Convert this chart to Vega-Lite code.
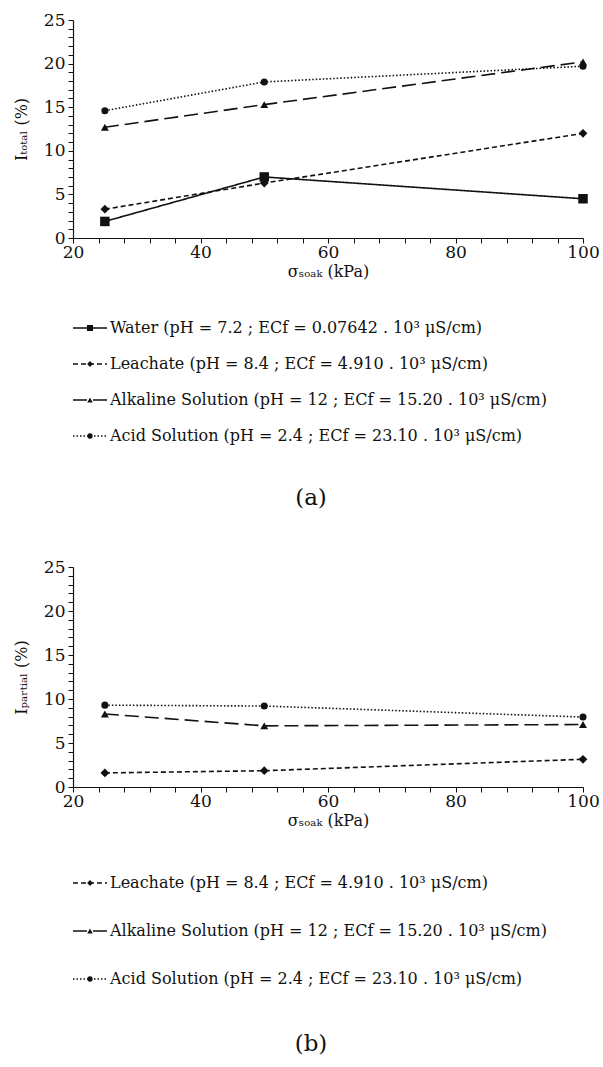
{
  "$schema": "https://vega.github.io/schema/vega-lite/v6.json",
  "padding": {"left": 13, "top": 11, "right": 2, "bottom": 2},
  "background": "white",
  "config": {
    "view": {"stroke": null},
    "font": "DejaVu Serif",
    "axis": {
      "labelFont": "DejaVu Serif", "titleFont": "DejaVu Serif",
      "labelColor": "#111", "titleColor": "#111", "domainColor": "#111", "tickColor": "#111",
      "labelFontSize": 17, "titleFontSize": 16, "titleFontWeight": "normal",
      "grid": false, "tickSize": 5, "domainWidth": 1.2, "tickWidth": 1
    },
    "title": {"font": "DejaVu Serif", "fontWeight": "normal", "color": "#111"}
  },
  "datasets": {
    "a": [
      {"sigma": 25, "I": 1.9, "key": "Water"},
      {"sigma": 50, "I": 7.0, "key": "Water"},
      {"sigma": 100, "I": 4.5, "key": "Water"},
      {"sigma": 25, "I": 3.3, "key": "Leachate"},
      {"sigma": 50, "I": 6.3, "key": "Leachate"},
      {"sigma": 100, "I": 12.0, "key": "Leachate"},
      {"sigma": 25, "I": 12.7, "key": "Alkaline"},
      {"sigma": 50, "I": 15.3, "key": "Alkaline"},
      {"sigma": 100, "I": 20.2, "key": "Alkaline"},
      {"sigma": 25, "I": 14.6, "key": "Acid"},
      {"sigma": 50, "I": 17.9, "key": "Acid"},
      {"sigma": 100, "I": 19.7, "key": "Acid"}
    ],
    "b": [
      {"sigma": 25, "I": 1.6, "key": "Leachate"},
      {"sigma": 50, "I": 1.85, "key": "Leachate"},
      {"sigma": 100, "I": 3.15, "key": "Leachate"},
      {"sigma": 25, "I": 8.3, "key": "Alkaline"},
      {"sigma": 50, "I": 6.95, "key": "Alkaline"},
      {"sigma": 100, "I": 7.1, "key": "Alkaline"},
      {"sigma": 25, "I": 9.3, "key": "Acid"},
      {"sigma": 50, "I": 9.2, "key": "Acid"},
      {"sigma": 100, "I": 7.95, "key": "Acid"}
    ],
    "legA": [
      {"key": "Water", "label": "Water (pH = 7.2 ; ECf = 0.07642 . 10³ μS/cm)"},
      {"key": "Leachate", "label": "Leachate (pH = 8.4 ; ECf = 4.910 . 10³ μS/cm)"},
      {"key": "Alkaline", "label": "Alkaline Solution (pH = 12 ; ECf = 15.20 . 10³ μS/cm)"},
      {"key": "Acid", "label": "Acid Solution (pH = 2.4 ; ECf = 23.10 . 10³ μS/cm)"}
    ],
    "legB": [
      {"key": "Leachate", "label": "Leachate (pH = 8.4 ; ECf = 4.910 . 10³ μS/cm)"},
      {"key": "Alkaline", "label": "Alkaline Solution (pH = 12 ; ECf = 15.20 . 10³ μS/cm)"},
      {"key": "Acid", "label": "Acid Solution (pH = 2.4 ; ECf = 23.10 . 10³ μS/cm)"}
    ]
  },
  "resolve": {"scale": {"size": "independent", "y": "independent", "x": "independent"}},
  "spacing": 48,
  "vconcat": [
    {
      "spacing": 31,
      "resolve": {"scale": {"size": "independent", "y": "independent", "x": "independent"}},
      "vconcat": [
        {
          "width": 510, "height": 218,
          "data": {"name": "a"},
          "encoding": {
            "x": {"field": "sigma", "type": "quantitative",
              "scale": {"domain": [20, 100], "nice": false, "zero": false},
              "axis": {"title": "σₛₒₐₖ (kPa)", "values": [20,24,28,32,36,40,44,48,52,56,60,64,68,72,76,80,84,88,92,96,100],
                "labelExpr": "datum.value % 20 == 0 ? datum.label : ''", "labelPadding": 1, "titlePadding": 3, "labelFlush": false}},
            "y": {"field": "I", "type": "quantitative",
              "scale": {"domain": [0, 25], "nice": false},
              "axis": {"title": "Iₜₒₜₐₗ (%)", "values": [0,1,2,3,4,5,6,7,8,9,10,11,12,13,14,15,16,17,18,19,20,21,22,23,24,25],
                "labelExpr": "datum.value % 5 == 0 ? datum.label : ''", "labelPadding": 3, "titlePadding": 14}}
          },
          "layer": [
            {"mark": {"type": "line", "color": "#111", "strokeWidth": 1.6},
             "encoding": {"strokeDash": {"field": "key", "type": "nominal", "legend": null,
               "scale": {"domain": ["Water", "Leachate", "Alkaline", "Acid"], "range": [[1, 0], [5, 3], [14, 6], [1.5, 2]]}}}},
            {"mark": {"type": "point", "filled": true, "color": "#111", "opacity": 1},
             "encoding": {
               "shape": {"field": "key", "type": "nominal", "legend": null,
                 "scale": {"domain": ["Water", "Leachate", "Alkaline", "Acid"], "range": ["square", "diamond", "triangle-up", "circle"]}},
               "size": {"field": "key", "type": "nominal", "legend": null,
                 "scale": {"domain": ["Water", "Leachate", "Alkaline", "Acid"], "range": [90, 50, 70, 90]}}}}
          ]
        },
        {
          "width": 510, "height": 144,
          "data": {"name": "legA"},
          "title": {"text": "(a)", "orient": "bottom", "anchor": "middle", "fontSize": 23, "offset": 33, "dx": -17},
          "encoding": {
            "y": {"field": "key", "type": "nominal", "axis": null,
              "scale": {"type": "point", "domain": ["Water", "Leachate", "Alkaline", "Acid"], "padding": 0.5}}
          },
          "layer": [
            {"mark": {"type": "rule", "color": "#111", "strokeWidth": 1.4},
             "encoding": {
               "x": {"datum": 0, "type": "quantitative", "scale": {"domain": [0, 510], "nice": false}, "axis": null},
               "x2": {"datum": 34},
               "strokeDash": {"field": "key", "type": "nominal", "legend": null,
                 "scale": {"domain": ["Water", "Leachate", "Alkaline", "Acid"], "range": [[1, 0], [4, 2], [10, 3], [1.5, 1.5]]}}}},
            {"mark": {"type": "point", "filled": true, "color": "#111", "opacity": 1},
             "encoding": {
               "x": {"datum": 17, "type": "quantitative"},
               "shape": {"field": "key", "type": "nominal", "legend": null,
                 "scale": {"domain": ["Water", "Leachate", "Alkaline", "Acid"], "range": ["square", "diamond", "triangle-up", "circle"]}},
               "size": {"field": "key", "type": "nominal", "legend": null,
                 "scale": {"domain": ["Water", "Leachate", "Alkaline", "Acid"], "range": [36, 28, 32, 40]}}}},
            {"mark": {"type": "text", "align": "left", "baseline": "middle", "fontSize": 16, "font": "DejaVu Serif", "color": "#111"},
             "encoding": {"x": {"datum": 37, "type": "quantitative"}, "text": {"field": "label"}}}
          ]
        }
      ]
    },
    {
      "spacing": 31,
      "resolve": {"scale": {"size": "independent", "y": "independent", "x": "independent"}},
      "vconcat": [
        {
          "width": 510, "height": 220,
          "data": {"name": "b"},
          "encoding": {
            "x": {"field": "sigma", "type": "quantitative",
              "scale": {"domain": [20, 100], "nice": false, "zero": false},
              "axis": {"title": "σₛₒₐₖ (kPa)", "values": [20,24,28,32,36,40,44,48,52,56,60,64,68,72,76,80,84,88,92,96,100],
                "labelExpr": "datum.value % 20 == 0 ? datum.label : ''", "labelPadding": 1, "titlePadding": 3, "labelFlush": false}},
            "y": {"field": "I", "type": "quantitative",
              "scale": {"domain": [0, 25], "nice": false},
              "axis": {"title": "Iₚₐᵣₜᵢₐₗ (%)", "values": [0,1,2,3,4,5,6,7,8,9,10,11,12,13,14,15,16,17,18,19,20,21,22,23,24,25],
                "labelExpr": "datum.value % 5 == 0 ? datum.label : ''", "labelPadding": 3, "titlePadding": 14}}
          },
          "layer": [
            {"mark": {"type": "line", "color": "#111", "strokeWidth": 1.6},
             "encoding": {"strokeDash": {"field": "key", "type": "nominal", "legend": null,
               "scale": {"domain": ["Water", "Leachate", "Alkaline", "Acid"], "range": [[1, 0], [5, 3], [14, 6], [1.5, 2]]}}}},
            {"mark": {"type": "point", "filled": true, "color": "#111", "opacity": 1},
             "encoding": {
               "shape": {"field": "key", "type": "nominal", "legend": null,
                 "scale": {"domain": ["Water", "Leachate", "Alkaline", "Acid"], "range": ["square", "diamond", "triangle-up", "circle"]}},
               "size": {"field": "key", "type": "nominal", "legend": null,
                 "scale": {"domain": ["Water", "Leachate", "Alkaline", "Acid"], "range": [90, 50, 70, 90]}}}}
          ]
        },
        {
          "width": 510, "height": 144,
          "data": {"name": "legB"},
          "title": {"text": "(b)", "orient": "bottom", "anchor": "middle", "fontSize": 23, "offset": 30, "dx": -17},
          "encoding": {
            "y": {"field": "key", "type": "nominal", "axis": null,
              "scale": {"type": "point", "domain": ["Leachate", "Alkaline", "Acid"], "padding": 0.5}}
          },
          "layer": [
            {"mark": {"type": "rule", "color": "#111", "strokeWidth": 1.4},
             "encoding": {
               "x": {"datum": 0, "type": "quantitative", "scale": {"domain": [0, 510], "nice": false}, "axis": null},
               "x2": {"datum": 34},
               "strokeDash": {"field": "key", "type": "nominal", "legend": null,
                 "scale": {"domain": ["Water", "Leachate", "Alkaline", "Acid"], "range": [[1, 0], [4, 2], [10, 3], [1.5, 1.5]]}}}},
            {"mark": {"type": "point", "filled": true, "color": "#111", "opacity": 1},
             "encoding": {
               "x": {"datum": 17, "type": "quantitative"},
               "shape": {"field": "key", "type": "nominal", "legend": null,
                 "scale": {"domain": ["Water", "Leachate", "Alkaline", "Acid"], "range": ["square", "diamond", "triangle-up", "circle"]}},
               "size": {"field": "key", "type": "nominal", "legend": null,
                 "scale": {"domain": ["Water", "Leachate", "Alkaline", "Acid"], "range": [36, 28, 32, 40]}}}},
            {"mark": {"type": "text", "align": "left", "baseline": "middle", "fontSize": 16, "font": "DejaVu Serif", "color": "#111"},
             "encoding": {"x": {"datum": 37, "type": "quantitative"}, "text": {"field": "label"}}}
          ]
        }
      ]
    }
  ]
}
